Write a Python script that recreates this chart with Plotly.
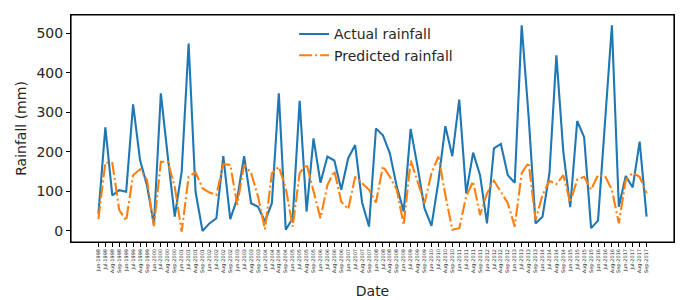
import plotly.graph_objects as go

months = ["Jun", "Jul", "Aug", "Sep"]
years = list(range(1998, 2018))
dates = [f"{m}-{y}" for y in years for m in months]

actual = [43, 262, 90, 103, 99, 320, 179, 115, 15, 348,
          188, 36, 150, 474, 99, 0, 19, 32, 189, 30,
          82, 189, 70, 61, 24, 70, 348, 3, 32, 329,
          49, 234, 122, 188, 178, 104, 184, 217, 72, 11,
          259, 242, 196, 112, 49, 258, 162, 57, 13, 125,
          265, 189, 332, 95, 198, 141, 19, 209, 220, 141,
          122, 520, 289, 19, 36, 146, 444, 200, 60, 278,
          237, 7, 26, 268, 520, 61, 139, 110, 226, 36]

predicted = [30, 173, 172, 53, 26, 141, 156, 129, 12, 175,
             175, 112, -2, 137, 148, 108, 97, 91, 169, 167,
             66, 167, 147, 87, 4, 146, 162, 108, 11, 146,
             169, 104, 32, 116, 152, 74, 55, 137, 120, 104,
             72, 164, 137, 104, 15, 178, 125, 70, 146, 188,
             91, 3, 7, 87, 125, 40, 95, 127, 99, 70,
             11, 146, 173, 28, 91, 127, 118, 141, 72, 130,
             137, 104, 141, 139, 104, 19, 129, 147, 137, 95]

xs = list(range(len(dates)))
FONT = "DejaVu Sans"

fig = go.Figure()
fig.add_trace(go.Scatter(x=xs, y=actual, mode="lines", name="Actual rainfall",
                         line=dict(color="#1f77b4", width=2.1)))
fig.add_trace(go.Scatter(x=xs, y=predicted, mode="lines", name="Predicted rainfall",
                         line=dict(color="#ff7f0e", width=2.1, dash="13px,3px,2px,3px")))

fig.add_shape(type="rect", xref="paper", yref="paper", x0=0, y0=0, x1=1, y1=1,
              line=dict(color="black", width=1.2), fillcolor="rgba(0,0,0,0)", layer="above")

fig.update_layout(
    width=692, height=292,
    margin=dict(l=63, r=26, t=7, b=58, autoexpand=False),
    paper_bgcolor="white", plot_bgcolor="white",
    font=dict(family=FONT, size=14, color="#262626"),
    showlegend=True,
    legend=dict(x=0.37, xanchor="left", y=0.985, yanchor="top",
                bgcolor="rgba(255,255,255,0)", font=dict(size=14, family=FONT),
                itemwidth=30, tracegroupgap=0),
    xaxis=dict(
        range=[-3.95, 82.95], tickmode="array", tickvals=xs, ticktext=dates,
        tickangle=-90, tickfont=dict(size=5, family=FONT),
        ticks="outside", ticklen=4, tickcolor="black", tickwidth=1,
        showline=True, linecolor="black", linewidth=1, mirror=True,
        showgrid=False, zeroline=False, automargin=False,
        title=dict(text="Date", font=dict(size=14), standoff=13),
    ),
    yaxis=dict(
        range=[-28, 546], tickmode="array", tickvals=[0, 100, 200, 300, 400, 500],
        ticks="outside", ticklen=4, tickcolor="black", tickwidth=1,
        showline=True, linecolor="black", linewidth=1, mirror=True,
        showgrid=False, zeroline=False, automargin=False,
        title=dict(text="Rainfall (mm)", font=dict(size=14), standoff=6),
    ),
)

fig.write_html("out.html")
